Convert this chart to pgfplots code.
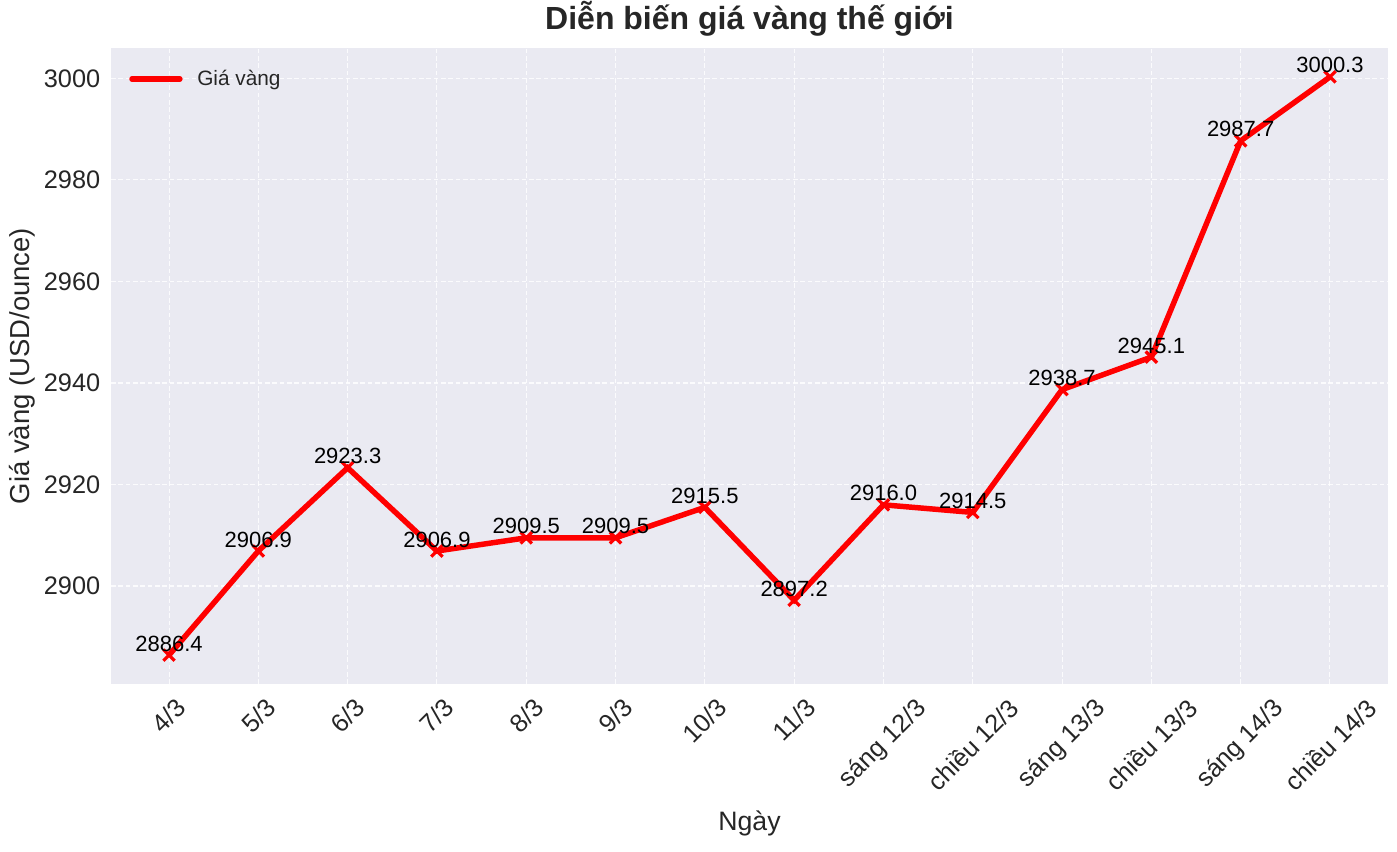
\documentclass[border=0pt]{standalone}
\usepackage{graphicx}
\usepackage{pgfplots}
\pgfplotsset{compat=1.18}
\usepackage{fontspec}
\setmainfont{Liberation Sans}
\definecolor{sbbg}{HTML}{EAEAF2}
\definecolor{sbtext}{HTML}{262626}
\begin{document}
\begin{tikzpicture}
\begin{axis}[
  scale only axis,
  width=957.75pt, height=477pt,
  xmin=-0.65, xmax=13.65,
  ymin=2880.7, ymax=3006.0,
  axis background/.style={fill=sbbg},
  axis line style={draw=none},
  major tick length=0pt,
  grid=major,
  major grid style={white, line width=0.8pt, dash pattern=on 3.5pt off 2pt, opacity=0.85},
  xtick={0,1,...,13},
  xticklabels={\rotatebox{45}{4/3},\rotatebox{45}{5/3},\rotatebox{45}{6/3},\rotatebox{45}{7/3},\rotatebox{45}{8/3},\rotatebox{45}{9/3},\rotatebox{45}{10/3},\rotatebox{45}{11/3},\rotatebox{45}{sáng 12/3},\rotatebox{45}{chiều 12/3},\rotatebox{45}{sáng 13/3},\rotatebox{45}{chiều 13/3},\rotatebox{45}{sáng 14/3},\rotatebox{45}{chiều 14/3}},
  xticklabel style={anchor=north, inner sep=0pt, yshift=-9pt, font=\fontsize{19}{22}\selectfont, text=sbtext},
  ytick={2900,2920,2940,2960,2980,3000},
  yticklabels={2900,2920,2940,2960,2980,3000},
  yticklabel style={anchor=east, inner sep=0pt, xshift=-7.9pt, font=\fontsize{19}{22}\selectfont, text=sbtext},
  xlabel={Ngày},
  xlabel style={at={(axis description cs:0.5,-0.2311)}, anchor=base, font=\fontsize{20}{24}\selectfont, text=sbtext},
  ylabel={Giá vàng (USD/ounce)},
  ylabel style={at={(axis description cs:-0.0635,0.5)}, anchor=base, rotate=0, font=\fontsize{20.6}{24}\selectfont, text=sbtext},
  title={Diễn biến giá vàng thế giới},
  title style={at={(axis description cs:0.5,1.0168)}, anchor=base, font=\bfseries\fontsize{24}{28}\selectfont, text=sbtext},
  legend style={draw=none, fill=none, at={(axis description cs:0.0141,0.9513)}, anchor=west, inner sep=0pt, column sep=11pt, nodes={inner sep=0pt}, font=\fontsize{15.6}{18}\selectfont, text=sbtext},
  legend image code/.code={\draw[red, line width=4pt, line cap=round] (0pt,0pt) -- (36pt,0pt);},
  nodes near coords,
  point meta=explicit symbolic,
  every node near coord/.append style={anchor=base, yshift=3pt, inner sep=0pt, font=\fontsize{16.5}{19}\selectfont, text=black},
]
\addplot[red, line width=4.1pt, mark=x, mark size=6pt, mark options={line width=2.4pt, solid}] table[meta=lab] {
x y lab
0 2886.4 2886.4
1 2906.9 2906.9
2 2923.3 2923.3
3 2906.9 2906.9
4 2909.5 2909.5
5 2909.5 2909.5
6 2915.5 2915.5
7 2897.2 2897.2
8 2916.0 2916.0
9 2914.5 2914.5
10 2938.7 2938.7
11 2945.1 2945.1
12 2987.7 2987.7
13 3000.3 3000.3
};
\addlegendentry{Giá vàng}
\end{axis}
\pgfresetboundingbox
\path ([shift={(-83.25pt,-126pt)}]current axis.south west) rectangle ([shift={(6.75pt,36pt)}]current axis.north east);
\end{tikzpicture}
\end{document}
